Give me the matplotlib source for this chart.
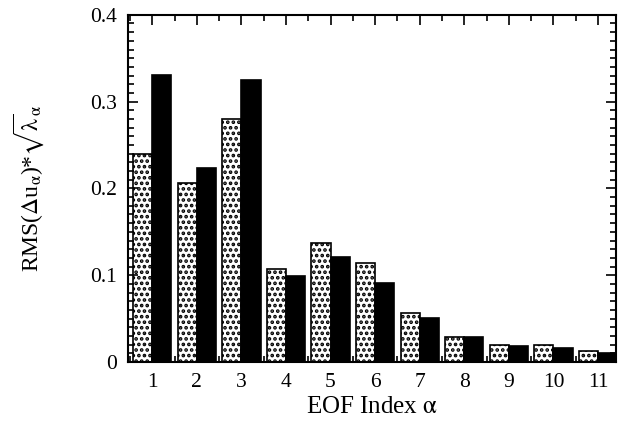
import numpy as np
import matplotlib
matplotlib.use("Agg")
import matplotlib.pyplot as plt
from matplotlib.ticker import MultipleLocator

plt.rcParams['font.family'] = ['Liberation Serif', 'DejaVu Serif']
plt.rcParams['mathtext.fontset'] = 'stix'
plt.rcParams['hatch.linewidth'] = 1.8

eof_index = np.arange(1, 12)
dotted_vals = [0.240, 0.206, 0.280, 0.107, 0.137, 0.114, 0.057, 0.029, 0.020, 0.020, 0.013]
black_vals = [0.331, 0.224, 0.325, 0.099, 0.121, 0.091, 0.051, 0.029, 0.018, 0.016, 0.010]

fig = plt.figure(figsize=(6.19, 4.23), dpi=100)
ax = fig.add_axes([0.207, 0.144, 0.788, 0.821])

w = 0.43
ax.bar(eof_index - w / 2, dotted_vals, width=w, color='white', edgecolor='black',
       hatch='...', linewidth=1.2)
ax.bar(eof_index + w / 2, black_vals, width=w, color='black', edgecolor='black',
       linewidth=1.2)

ax.set_xlim(0.46, 11.4)
ax.set_ylim(0, 0.4)
ax.set_xticks(eof_index)
ax.xaxis.set_minor_locator(MultipleLocator(0.5))
ax.set_yticks([0, 0.1, 0.2, 0.3, 0.4])
ax.set_yticklabels(['0', '0.1', '0.2', '0.3', '0.4'])
ax.yaxis.set_minor_locator(MultipleLocator(0.01))
ax.tick_params(which='both', direction='in', top=True, right=True, labelsize=15.5, width=1.2)
ax.tick_params(which='major', length=7, pad=8)
ax.tick_params(which='minor', length=4)
for s in ax.spines.values():
    s.set_linewidth(1.5)

ax.set_xlabel(r'EOF Index $\mathrm{\alpha}$', fontsize=18, labelpad=3)
ax.set_ylabel(r'RMS($\Delta$u$_\mathrm{\alpha}$)*$\sqrt{\mathrm{\lambda}}_\mathrm{\alpha}$',
              fontsize=17, labelpad=32)

fig.savefig('out.png', dpi=100)
